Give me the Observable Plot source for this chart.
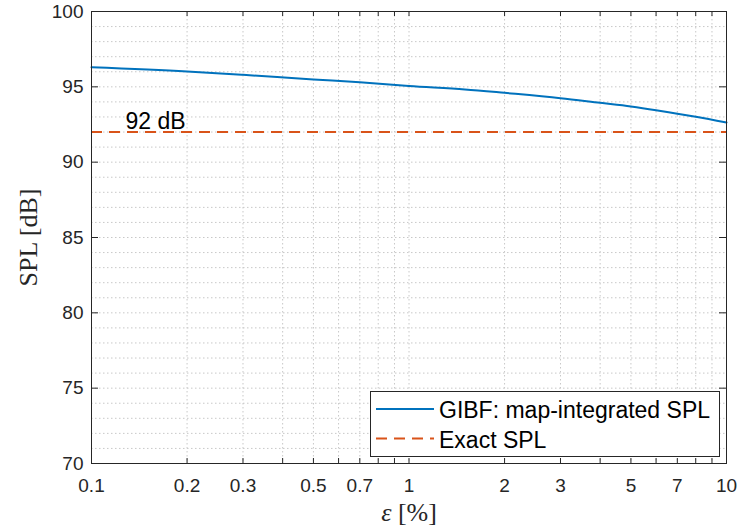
<!DOCTYPE html>
<html>
<head>
<meta charset="utf-8">
<script src="https://cdn.jsdelivr.net/npm/d3@7"></script>
<script src="https://cdn.jsdelivr.net/npm/@observablehq/plot@0.6"></script>
<style>
  html, body { margin: 0; padding: 0; background: white; }
  #chart { position: relative; width: 741px; height: 531px; }
</style>
</head>
<body>
<div id="chart"></div>
<script>
// ---- data ----
const eps = [0.1, 0.2, 0.3, 0.5, 0.7, 1, 1.5, 2, 3, 4, 5, 6, 7, 8, 10];          // ε [%]
const splGIBF = [96.30, 96.02, 95.80, 95.49, 95.31, 95.06, 94.83, 94.60, 94.25, 93.94, 93.70, 93.45, 93.21, 93.01, 92.63]; // SPL [dB]
const exactSPL = 92;                                                           // Exact SPL [dB]
const xTickLabels = [0.1, 0.2, 0.3, 0.5, 0.7, 1, 2, 3, 5, 7, 10];
const xMinor = [0.2, 0.3, 0.4, 0.5, 0.6, 0.7, 0.8, 0.9, 1, 2, 3, 4, 5, 6, 7, 8, 9];
const yTickLabels = [70, 75, 80, 85, 90, 95, 100];
const yMinor = [71,72,73,74,75,76,77,78,79,80,81,82,83,84,85,86,87,88,89,90,91,92,93,94,95,96,97,98,99];
const seriesNames = ["GIBF: map-integrated SPL", "Exact SPL"];
const annotation = "92 dB";

const blue = "#0072BD", orange = "#D95319", axisColor = "#262626";
const data = eps.map((e, i) => ({eps: e, spl: splGIBF[i]}));

const W = 741, H = 531, mL = 91, mR = 15, mT = 11, mB = 68;
const pw = W - mL - mR, ph = H - mT - mB;

const sans = "'Liberation Sans', Arial, Helvetica, sans-serif";
const serif = "'Liberation Serif', 'Times New Roman', serif";

const chart = Plot.plot({
  width: W, height: H,
  marginLeft: mL, marginRight: mR, marginTop: mT, marginBottom: mB,
  x: {type: "log", domain: [0.1, 10], label: null, axis: null},
  y: {domain: [70, 100], label: null, axis: null},
  style: {fontFamily: sans, fontSize: "19px", background: "white", color: axisColor},
  marks: [
    Plot.ruleY(yMinor, {stroke: "#c8c8c8", strokeWidth: 1, strokeDasharray: "1.5,2.5"}),
    Plot.ruleX(xMinor, {stroke: "#c8c8c8", strokeWidth: 1, strokeDasharray: "1.5,2.5"}),
    Plot.ruleY([exactSPL], {stroke: orange, strokeWidth: 2, strokeDasharray: "11,7"}),
    Plot.line(data, {x: "eps", y: "spl", stroke: blue, strokeWidth: 2, curve: "monotone-x"}),
    Plot.text([{x: 0.128, y: exactSPL, t: annotation}], {x: "x", y: "y", text: "t", textAnchor: "start", dy: -10, fontSize: 23, fontFamily: sans, fill: "black"}),
    // inward ticks on all four sides
    Plot.ruleX(xMinor, {stroke: axisColor, insetTop: ph - 5}),
    Plot.ruleX(xMinor, {stroke: axisColor, insetBottom: ph - 5}),
    Plot.ruleY(yTickLabels, {stroke: axisColor, insetRight: pw - 7}),
    Plot.ruleY(yTickLabels, {stroke: axisColor, insetLeft: pw - 7}),
    Plot.frame({stroke: axisColor, strokeWidth: 1}),
    // tick labels
    Plot.text(xTickLabels, {x: d => d, text: d => String(d), frameAnchor: "bottom", lineAnchor: "top", textAnchor: "middle", dy: 15, fontSize: 19, fontFamily: sans, fill: axisColor}),
    Plot.text(yTickLabels, {y: d => d, text: d => String(d), frameAnchor: "left", lineAnchor: "middle", textAnchor: "end", dx: -8, fontSize: 19, fontFamily: sans, fill: axisColor}),
    // axis titles
    Plot.text(["ε [%]"], {text: d => d, frameAnchor: "bottom", textAnchor: "middle", lineAnchor: "middle", dy: 49, fontFamily: serif, fontSize: 26, fill: axisColor}),
    Plot.text(["SPL [dB]"], {text: d => d, frameAnchor: "left", textAnchor: "middle", lineAnchor: "middle", rotate: -90, dx: -63, fontFamily: serif, fontSize: 26, fill: axisColor})
  ]
});
document.getElementById("chart").appendChild(chart);

const svg = d3.select(chart);
// italic epsilon in the x title
svg.selectAll("text").filter(function() { return this.textContent === "ε [%]"; }).each(function() {
  const t = d3.select(this);
  t.text(null);
  t.append("tspan").attr("font-style", "italic").text("ε");
  t.append("tspan").text(" [%]");
});

// legend (south-east, inside the axes)
const lg = svg.append("g").attr("text-anchor", "start");
lg.append("rect").attr("x", 370.5).attr("y", 391.5).attr("width", 349).attr("height", 65)
  .attr("fill", "white").attr("stroke", axisColor).attr("stroke-width", 1);
const rows = [
  {name: seriesNames[0], color: blue, dash: null, y: 409, base: 418},
  {name: seriesNames[1], color: orange, dash: "11,7", y: 438.5, base: 448}
];
rows.forEach(r => {
  lg.append("line").attr("x1", 376).attr("x2", 434).attr("y1", r.y).attr("y2", r.y)
    .attr("stroke", r.color).attr("stroke-width", 2).attr("stroke-dasharray", r.dash);
  lg.append("text").attr("x", 439).attr("y", r.base).attr("font-size", 23)
    .attr("text-anchor", "start")
    .attr("font-family", sans).attr("fill", "black").text(r.name);
});
</script>
</body>
</html>
